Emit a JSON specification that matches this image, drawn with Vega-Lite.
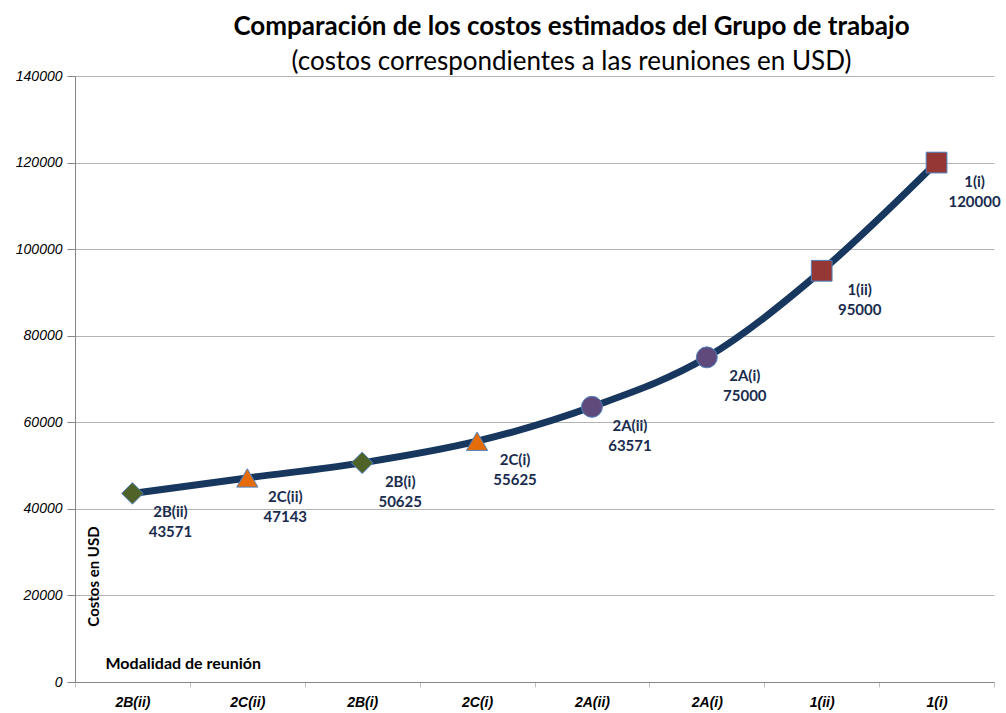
{
  "$schema": "https://vega.github.io/schema/vega-lite/v6.json",
  "width": 919,
  "height": 606,
  "autosize": {"type": "none"},
  "padding": {"left": 75, "top": 76, "right": 12, "bottom": 31},
  "background": "white",
  "config": {
    "font": "Lato",
    "view": {"stroke": null}
  },
  "title": {
    "text": "Comparación de los costos estimados del Grupo de trabajo",
    "subtitle": "(costos correspondientes a las reuniones en USD)",
    "anchor": "middle",
    "dx": 37,
    "offset": -6,
    "font": "Lato",
    "fontSize": 26,
    "fontWeight": "bold",
    "color": "#000000",
    "subtitleFont": "Lato",
    "subtitleFontSize": 26,
    "subtitleFontWeight": "normal",
    "subtitleColor": "#000000",
    "subtitlePadding": 9
  },
  "data": {
    "values": [
      {"modalidad": "2B(ii)", "costo": 43571, "grupo": "2B"},
      {"modalidad": "2C(ii)", "costo": 47143, "grupo": "2C"},
      {"modalidad": "2B(i)", "costo": 50625, "grupo": "2B"},
      {"modalidad": "2C(i)", "costo": 55625, "grupo": "2C"},
      {"modalidad": "2A(ii)", "costo": 63571, "grupo": "2A"},
      {"modalidad": "2A(i)", "costo": 75000, "grupo": "2A"},
      {"modalidad": "1(ii)", "costo": 95000, "grupo": "1"},
      {"modalidad": "1(i)", "costo": 120000, "grupo": "1"}
    ]
  },
  "encoding": {
    "x": {
      "field": "modalidad",
      "type": "nominal",
      "sort": null,
      "scale": {"type": "band", "paddingInner": 0, "paddingOuter": 0},
      "axis": {
        "title": "Modalidad de reunión",
        "titleFont": "Lato",
        "titleFontSize": 16,
        "titleFontWeight": "bold",
        "titleColor": "#000000",
        "titleAnchor": "start",
        "titleAlign": "left",
        "titleX": 30,
        "titleY": -27,
        "labelAngle": 0,
        "labelFont": "Liberation Sans",
        "labelFontSize": 14,
        "labelFontWeight": "bold",
        "labelFontStyle": "italic",
        "labelColor": "#000000",
        "labelPadding": 8,
        "tickBand": "extent",
        "tickSize": 5,
        "tickColor": "#c0c0c0",
        "domainColor": "#868686",
        "grid": false
      }
    },
    "y": {
      "field": "costo",
      "type": "quantitative",
      "scale": {"domain": [0, 140000], "nice": false},
      "axis": {
        "values": [0, 20000, 40000, 60000, 80000, 100000, 120000, 140000],
        "format": "d",
        "title": "Costos en USD",
        "titleFont": "Lato",
        "titleFontSize": 15,
        "titleFontWeight": "bold",
        "titleColor": "#000000",
        "titleAngle": -90,
        "titleX": 26,
        "titleY": 500,
        "titleAlign": "center",
        "labelFont": "Liberation Sans",
        "labelFontSize": 14,
        "labelFontStyle": "italic",
        "labelColor": "#000000",
        "labelPadding": 5,
        "tickSize": 8,
        "tickColor": "#868686",
        "domainColor": "#868686",
        "gridColor": "#b3b3b3",
        "gridWidth": 1
      }
    }
  },
  "layer": [
    {
      "mark": {"type": "line", "color": "#17375e", "strokeWidth": 7, "interpolate": "monotone"}
    },
    {
      "mark": {"type": "point", "filled": true, "stroke": "#4f81bd", "strokeWidth": 1, "opacity": 1},
      "encoding": {
        "shape": {
          "field": "grupo",
          "type": "nominal",
          "scale": {"domain": ["2B", "2C", "2A", "1"], "range": ["diamond", "triangle-up", "circle", "square"]},
          "legend": null
        },
        "color": {
          "field": "grupo",
          "type": "nominal",
          "scale": {"domain": ["2B", "2C", "2A", "1"], "range": ["#4f6228", "#e46c0a", "#604a7b", "#953735"]},
          "legend": null
        },
        "size": {
          "field": "grupo",
          "type": "nominal",
          "scale": {"domain": ["2B", "2C", "2A", "1"], "range": [460, 430, 330, 290]},
          "legend": null
        }
      }
    },
    {
      "mark": {"type": "text", "font": "Lato", "fontSize": 15, "fontWeight": "bold", "color": "#1a2c4e", "align": "center", "dx": 38, "dy": 19},
      "encoding": {"text": {"field": "modalidad"}}
    },
    {
      "mark": {"type": "text", "font": "Lato", "fontSize": 15, "fontWeight": "bold", "color": "#1a2c4e", "align": "center", "dx": 38, "dy": 39},
      "encoding": {"text": {"field": "costo", "type": "quantitative", "format": "d"}}
    }
  ]
}
